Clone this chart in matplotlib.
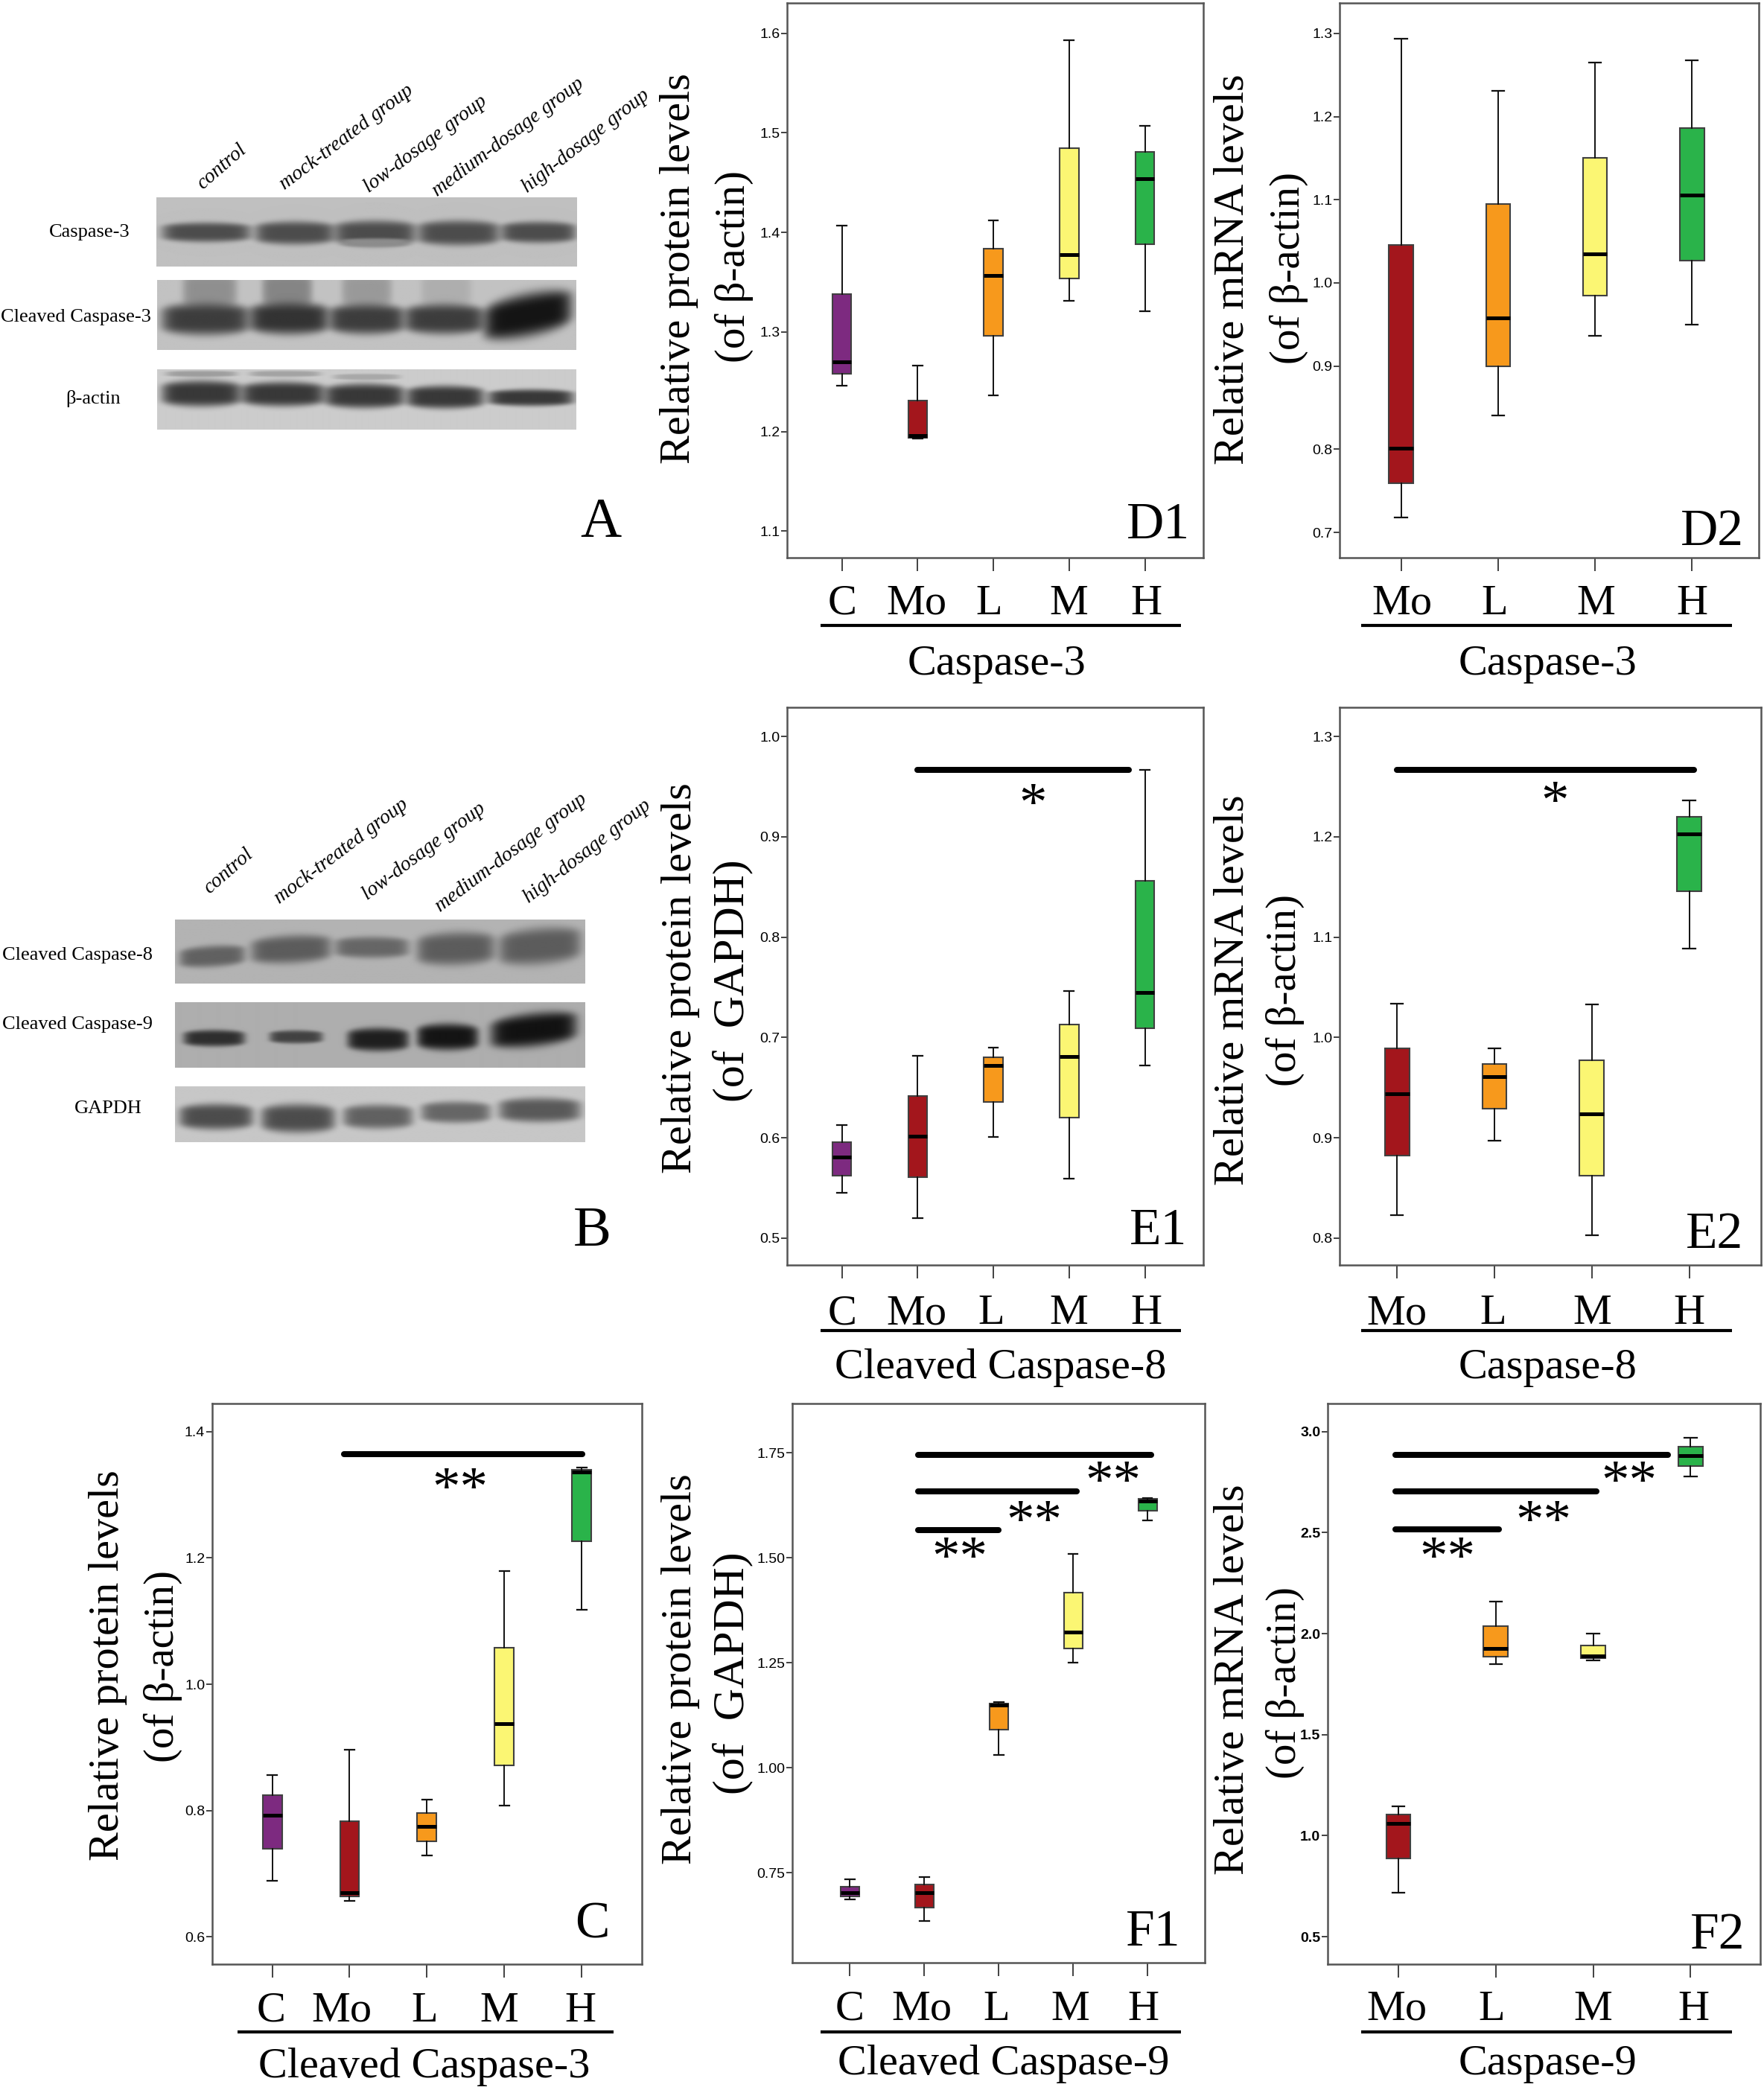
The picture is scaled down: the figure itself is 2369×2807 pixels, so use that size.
#!/usr/bin/env python3
"""Western blots and SPSS-style box plots for caspase-3/8/9 levels."""
import numpy as np
import matplotlib
matplotlib.use("Agg")
import matplotlib.pyplot as plt
from matplotlib.lines import Line2D

# layout numbers below are on a 1322 wide sheet, scaled up to the real size
SHEET_W = 1322.0
SHEET_H = 1566.4
SERIF = ["Liberation Serif", "DejaVu Serif"]
SANS = ["Liberation Sans", "DejaVu Sans"]

PURPLE = "#7d2a80"
RED = "#a3161c"
ORANGE = "#f7991c"
YELLOW = "#fbf673"
GREEN = "#2ab34a"

GROUPS5 = ["C", "Mo", "L", "M", "H"]
GROUPS4 = ["Mo", "L", "M", "H"]
COLORS5 = [PURPLE, RED, ORANGE, YELLOW, GREEN]
COLORS4 = [RED, ORANGE, YELLOW, GREEN]

# whisker low, q1, median, q3, whisker high
D1_STATS = [[1.246, 1.258, 1.270, 1.338, 1.407], [1.193, 1.194, 1.196, 1.231, 1.266],
            [1.236, 1.296, 1.357, 1.384, 1.412], [1.331, 1.354, 1.378, 1.485, 1.593],
            [1.321, 1.388, 1.454, 1.481, 1.507]]
D2_STATS = [[0.718, 0.759, 0.801, 1.046, 1.294], [0.841, 0.900, 0.958, 1.095, 1.231],
            [0.936, 0.985, 1.035, 1.150, 1.265], [0.950, 1.027, 1.106, 1.186, 1.268]]
E1_STATS = [[0.545, 0.5625, 0.581, 0.596, 0.613], [0.520, 0.561, 0.602, 0.642, 0.682],
            [0.601, 0.636, 0.672, 0.680, 0.690], [0.559, 0.620, 0.681, 0.713, 0.746],
            [0.672, 0.709, 0.745, 0.856, 0.967]]
E2_STATS = [[0.823, 0.882, 0.944, 0.989, 1.034], [0.897, 0.929, 0.961, 0.974, 0.989],
            [0.803, 0.862, 0.924, 0.977, 1.033], [1.089, 1.146, 1.203, 1.220, 1.236]]
C_STATS = [[0.689, 0.740, 0.793, 0.824, 0.856], [0.657, 0.664, 0.670, 0.783, 0.897],
           [0.729, 0.751, 0.775, 0.796, 0.817], [0.808, 0.872, 0.938, 1.058, 1.179],
           [1.118, 1.227, 1.336, 1.340, 1.343]]
F1_STATS = [[0.686, 0.693, 0.703, 0.716, 0.734], [0.634, 0.667, 0.703, 0.722, 0.740],
            [1.031, 1.090, 1.150, 1.153, 1.156], [1.250, 1.285, 1.324, 1.417, 1.510],
            [1.589, 1.613, 1.636, 1.640, 1.642]]
F2_STATS = [[0.716, 0.886, 1.061, 1.105, 1.144], [1.849, 1.886, 1.926, 2.039, 2.159],
            [1.869, 1.878, 1.890, 1.943, 2.000], [2.777, 2.830, 2.882, 2.926, 2.969]]

D1_TICKS = [1.1, 1.2, 1.3, 1.4, 1.5, 1.6]
D2_TICKS = [0.7, 0.8, 0.9, 1.0, 1.1, 1.2, 1.3]
E1_TICKS = [0.5, 0.6, 0.7, 0.8, 0.9, 1.0]
E2_TICKS = [0.8, 0.9, 1.0, 1.1, 1.2, 1.3]
C_TICKS = [0.6, 0.8, 1.0, 1.2, 1.4]
F1_TICKS = [0.75, 1.00, 1.25, 1.50, 1.75]
F2_TICKS = [0.5, 1.0, 1.5, 2.0, 2.5, 3.0]

# significance bars: x from, x to, y
E1_BARS = [(2, 4.79, 0.967)]
E2_BARS = [(1, 4.05, 1.267)]
C_BARS = [(1.93, 5.01, 1.364)]
F1_BARS = [(1.917, 5.05, 1.745), (1.917, 4.045, 1.658), (1.917, 3.0, 1.567)]
F2_BARS = [(0.97, 3.77, 2.885), (0.97, 3.03, 2.705), (0.97, 2.03, 2.515)]

LANES_A = ["control", "mock-treated group", "low-dosage group",
           "medium-dosage group", "high-dosage group"]


def sx(x):
    return x / SHEET_W


def sy(y):
    return 1 - y / SHEET_H


fig = plt.figure(figsize=(23.69, 28.07), dpi=100, facecolor="white")


def label(x, y, s, size, **kw):
    kw.setdefault("ha", "center")
    kw.setdefault("va", "center")
    kw.setdefault("family", SERIF)
    fig.text(sx(x), sy(y), s, fontsize=size, color="black", **kw)


def rule(x0, x1, y, lw):
    fig.add_artist(Line2D([sx(x0), sx(x1)], [sy(y), sy(y)], transform=fig.transFigure,
                          color="black", lw=lw, solid_capstyle="butt"))


def stars(x, y, s="**"):
    # the asterisk sits high in the em box, so go from the baseline
    label(x, y + 17, s, 54, va="baseline")


def box_panel(rect, tick_ends, stats, colors, yticks, fmt, bars=(), weight="normal"):
    left, right, top, bottom = rect
    xt0, xt1, v_hi, py_hi, v_lo, py_lo = tick_ends
    ax = fig.add_axes([sx(left), sy(bottom), sx(right) - sx(left), (bottom - top) / SHEET_H])
    n = len(stats)
    unit_x = (xt1 - xt0) / (n - 1)
    ax.set_xlim(1 + (left - xt0) / unit_x, 1 + (right - xt0) / unit_x)
    unit_y = (py_lo - py_hi) / (v_hi - v_lo)
    ax.set_ylim(v_lo - (bottom - py_lo) / unit_y, v_hi + (py_hi - top) / unit_y)

    rows = [dict(whislo=s[0], q1=s[1], med=s[2], q3=s[3], whishi=s[4], fliers=[]) for s in stats]
    art = ax.bxp(rows, positions=range(1, n + 1), widths=0.25, patch_artist=True,
                 showfliers=False, capwidths=0.125,
                 boxprops=dict(edgecolor="#404040", linewidth=1.5),
                 medianprops=dict(color="black", linewidth=3.6, solid_capstyle="butt"),
                 whiskerprops=dict(color="#111111", linewidth=1.4),
                 capprops=dict(color="#111111", linewidth=1.6))
    for patch, c in zip(art["boxes"], colors):
        patch.set_facecolor(c)

    ax.set_xticks(range(1, n + 1))
    ax.set_xticklabels([])
    ax.set_yticks(yticks)
    ax.set_yticklabels([fmt % t for t in yticks], family=SANS, fontweight=weight, fontsize=14)
    ax.tick_params(axis="x", length=13, width=1.3, color="#333333")
    ax.tick_params(axis="y", length=6, width=1.3, color="#333333", pad=1)
    for sp in ax.spines.values():
        sp.set_color("#555555")
        sp.set_linewidth(1.8)
    for x0, x1, y in bars:
        ax.plot([x0, x1], [y, y], color="black", lw=5.8, solid_capstyle="round", zorder=5)
    return ax


def blot(rect, background, bands):
    left, right, top, bottom = rect
    ax = fig.add_axes([sx(left), sy(bottom), sx(right) - sx(left), (bottom - top) / SHEET_H])
    w = int((right - left) * 1.8)
    h = int((bottom - top) * 1.8)
    u, v = np.meshgrid(np.linspace(0, 1, w), np.linspace(0, 1, h))
    img = np.full((h, w), background, dtype=float)
    for x0, x1, yc, hh, level, tilt in bands:
        dx = (u - (x0 + x1) / 2) / ((x1 - x0) / 2)
        squeeze = np.clip(1 - 0.25 * dx ** 2, 0.2, None)
        dv = (v - yc - tilt * dx) / (1.3 * hh * squeeze)
        alpha = np.exp(-np.abs(dx) ** 8) * np.exp(-dv ** 4)
        img = img * (1 - alpha) + level * alpha
    ax.imshow(img, cmap="gray", vmin=0, vmax=1, aspect="auto", interpolation="bilinear")
    ax.axis("off")


# ---------------------------------------------------------------- panel A
blot((117, 432, 148, 200), 0.75, [
    (0.013, 0.224, 0.51, 0.11, 0.30, 0), (0.235, 0.423, 0.52, 0.13, 0.30, 0),
    (0.423, 0.617, 0.52, 0.14, 0.30, 0), (0.622, 0.816, 0.52, 0.14, 0.30, 0),
    (0.82, 0.998, 0.51, 0.12, 0.30, 0), (0.44, 0.60, 0.66, 0.05, 0.55, 0)])
blot((118, 432, 210, 262), 0.76, [
    (0.06, 0.19, 0.14, 0.22, 0.56, 0), (0.25, 0.37, 0.14, 0.22, 0.52, 0),
    (0.44, 0.56, 0.14, 0.22, 0.60, 0), (0.63, 0.75, 0.14, 0.22, 0.68, 0),
    (0.01, 0.22, 0.56, 0.18, 0.24, 0), (0.22, 0.41, 0.55, 0.18, 0.20, 0),
    (0.41, 0.59, 0.56, 0.17, 0.24, 0), (0.59, 0.78, 0.56, 0.17, 0.24, 0),
    (0.78, 0.99, 0.50, 0.24, 0.08, -0.12)])
blot((118, 432, 277, 322), 0.80, [
    (0.02, 0.19, 0.07, 0.04, 0.62, 0), (0.22, 0.39, 0.07, 0.04, 0.64, 0),
    (0.42, 0.58, 0.12, 0.04, 0.66, 0),
    (0.01, 0.20, 0.40, 0.17, 0.22, 0), (0.20, 0.40, 0.41, 0.16, 0.22, 0),
    (0.40, 0.59, 0.44, 0.16, 0.22, 0), (0.595, 0.78, 0.46, 0.15, 0.22, 0),
    (0.79, 0.995, 0.47, 0.11, 0.22, 0)])
for s, x0, y0, rot in zip(LANES_A, [166, 260, 319, 381, 439], [125, 103, 108, 103, 106], [41, 37, 37, 37, 38]):
    label(x0, y0, s, 20, rotation=rot, style="italic", rotation_mode="anchor")
label(67, 174, "Caspase-3", 19)
label(57, 238, "Cleaved Caspase-3", 19)
label(70, 299, "β-actin", 19)
label(450, 392, "A", 55)

# ---------------------------------------------------------------- panel B
blot((131, 438, 689, 737), 0.70, [
    (0.01, 0.17, 0.58, 0.13, 0.38, -0.03), (0.185, 0.38, 0.47, 0.17, 0.36, -0.03),
    (0.39, 0.57, 0.44, 0.13, 0.40, 0), (0.59, 0.78, 0.46, 0.20, 0.36, -0.02),
    (0.79, 0.99, 0.42, 0.22, 0.36, -0.05)])
blot((131, 438, 751, 800), 0.68, [
    (0.02, 0.17, 0.55, 0.10, 0.18, 0), (0.23, 0.36, 0.53, 0.08, 0.26, 0),
    (0.42, 0.57, 0.57, 0.14, 0.12, 0), (0.59, 0.74, 0.53, 0.16, 0.08, 0),
    (0.77, 0.98, 0.42, 0.20, 0.07, -0.07)])
blot((131, 438, 814, 856), 0.78, [
    (0.01, 0.19, 0.55, 0.18, 0.30, 0), (0.21, 0.39, 0.58, 0.20, 0.30, 0),
    (0.41, 0.58, 0.55, 0.17, 0.38, 0), (0.60, 0.77, 0.47, 0.15, 0.40, 0),
    (0.79, 0.99, 0.43, 0.17, 0.35, 0)])
for s, x0, y0, rot in zip(LANES_A, [171, 256, 318, 383, 440], [653, 638, 638, 639, 638], [41, 37, 37, 37, 38]):
    label(x0, y0, s, 20, rotation=rot, style="italic", rotation_mode="anchor")
label(58, 716, "Cleaved Caspase-8", 19)
label(58, 768, "Cleaved Caspase-9", 19)
label(81, 831, "GAPDH", 19)
label(444, 923, "B", 55)

# ---------------------------------------------------------------- box plots
box_panel((590, 902, 2.5, 418), (631, 858, 1.6, 25, 1.1, 398), D1_STATS, COLORS5, D1_TICKS, "%.1f")
box_panel((1004, 1318, 2.5, 418), (1050, 1268, 1.3, 25, 0.7, 399), D2_STATS, COLORS4, D2_TICKS, "%.1f")
box_panel((590, 902, 530, 948), (631, 858, 1.0, 552, 0.5, 928), E1_STATS, COLORS5, E1_TICKS, "%.1f", E1_BARS)
box_panel((1004, 1320, 530, 948), (1047, 1266, 1.3, 552, 0.8, 928), E2_STATS, COLORS4, E2_TICKS, "%.1f", E2_BARS)
box_panel((159, 481, 1052, 1472), (204, 436, 1.4, 1073, 0.6, 1451.7), C_STATS, COLORS5, C_TICKS, "%.1f", C_BARS)
box_panel((594, 903, 1052, 1471), (637, 860, 1.75, 1089, 0.75, 1403.5), F1_STATS, COLORS5, F1_TICKS, "%.2f", F1_BARS)
box_panel((995, 1319, 1052, 1472), (1048, 1267, 3.0, 1073, 0.5, 1451.5), F2_STATS, COLORS4, F2_TICKS, "%.1f", F2_BARS, "bold")

# group names under the axes, they do not sit exactly on the ticks
for names, xs, y in [(GROUPS5, [631, 687, 741, 801, 859], 452.5),
                     (GROUPS4, [1051, 1120, 1196, 1268], 452.5),
                     (GROUPS5, [631, 687, 743, 801, 859], 984.5),
                     (GROUPS4, [1047, 1119, 1193, 1266], 984.5),
                     (GROUPS5, [203, 256, 318, 374, 435], 1507),
                     (GROUPS5, [637, 691, 747, 802, 857], 1506),
                     (GROUPS4, [1047, 1118, 1194, 1269], 1506)]:
    for s, x in zip(names, xs):
        label(x, y, s, 42)

for x0, x1, y, s, tx, ty in [(615, 885, 469, "Caspase-3", 747, 498),
                             (1020, 1298, 469, "Caspase-3", 1160, 498),
                             (615, 885, 997, "Cleaved Caspase-8", 750, 1025),
                             (1020, 1298, 997, "Caspase-8", 1160, 1025),
                             (178, 460, 1523, "Cleaved Caspase-3", 318, 1549),
                             (615, 885, 1523, "Cleaved Caspase-9", 752, 1547),
                             (1020, 1298, 1523, "Caspase-9", 1160, 1547)]:
    rule(x0, x1, y, 3)
    label(tx, ty, s, 42)

for x, y, s, size in [(509, 201, "Relative protein levels", 42), (550, 200, "(of β-actin)", 41),
                      (924, 202, "Relative mRNA levels", 42), (966, 201, "(of β-actin)", 41),
                      (510, 733, "Relative protein levels", 42), (549, 735, "(of  GAPDH)", 43),
                      (924, 742, "Relative mRNA levels", 42), (963, 742, "(of β-actin)", 41),
                      (81, 1248, "Relative protein levels", 42), (122, 1249, "(of β-actin)", 41),
                      (510, 1251, "Relative protein levels", 42), (549, 1254, "(of  GAPDH)", 43),
                      (924, 1259, "Relative mRNA levels", 42), (963, 1261, "(of β-actin)", 41)]:
    label(x, y, s, size, rotation=90)

for x, y, s in [(868, 394, "D1"), (1283, 399, "D2"), (868, 923, "E1"), (1285, 926, "E2"),
                (444, 1443, "C"), (864, 1449, "F1"), (1287, 1451, "F2")]:
    label(x, y, s, 50)

stars(774, 598, "*")
stars(1165, 596, "*")
stars(345, 1111)
for x, y in [(719, 1162.6), (775, 1135.6), (834, 1106), (1085, 1162.6), (1156.5, 1135.6), (1221, 1106)]:
    stars(x, y)

fig.savefig("out.png", dpi=100)
